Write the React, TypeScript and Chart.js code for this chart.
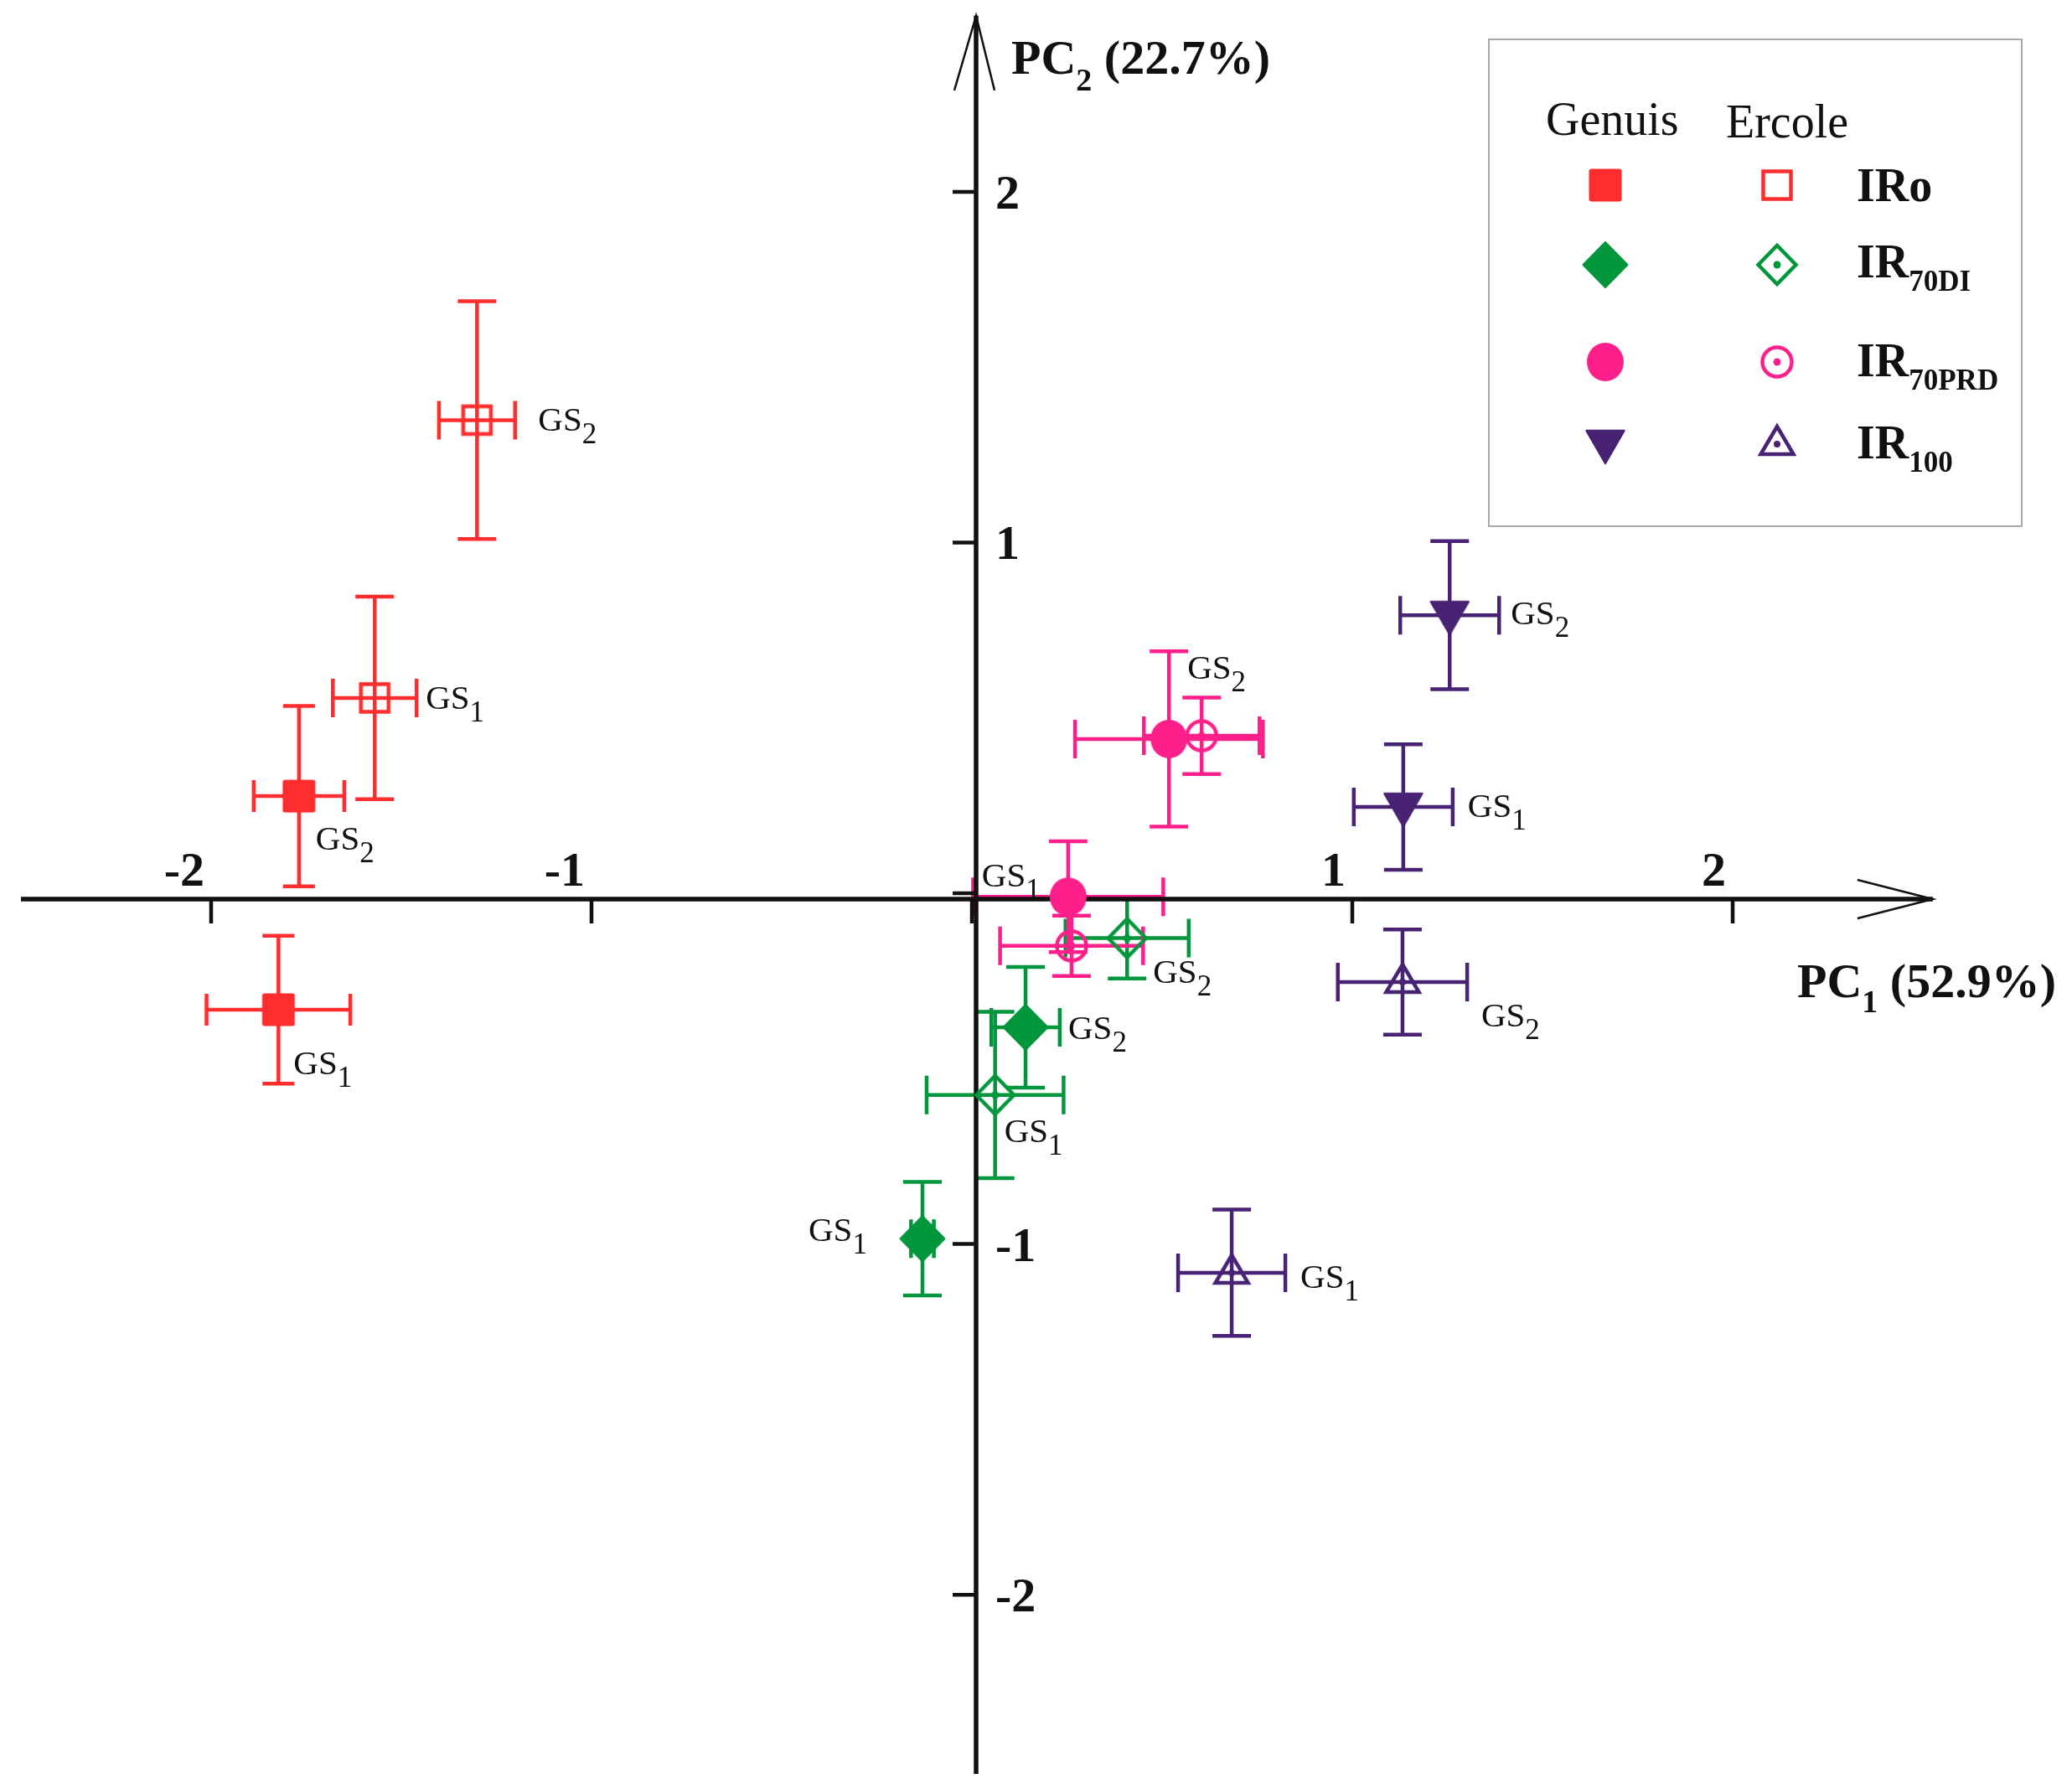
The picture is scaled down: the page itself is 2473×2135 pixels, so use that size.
import React, { useEffect, useRef } from 'react';
import { Chart, registerables } from 'chart.js';

Chart.register(...registerables);

// ---------------- DATA ----------------
// each point: [PC1, PC2, error PC1, error PC2]; first row GS1, second row GS2
const stageNames = ['GS1', 'GS2'];
const genuisIRo = [[-1.823, -0.332, 0.189, 0.211], [-1.769, 0.277, 0.119, 0.257]];
const ercoleIRo = [[-1.570, 0.557, 0.110, 0.289], [-1.301, 1.349, 0.100, 0.339]];
const genuisIR70DI = [[-0.130, -0.985, 0.030, 0.162], [0.141, -0.382, 0.090, 0.172]];
const ercoleIR70DI = [[0.061, -0.575, 0.180, 0.237], [0.408, -0.128, 0.162, 0.115]];
const genuisIR70PRD = [[0.253, -0.010, 0.250, 0.158], [0.518, 0.440, 0.247, 0.250]];
const ercoleIR70PRD = [[0.262, -0.150, 0.188, 0.086], [0.604, 0.449, 0.152, 0.109]];
const genuisIR100 = [[1.134, 0.246, 0.130, 0.179], [1.256, 0.793, 0.130, 0.211]];
const ercoleIR100 = [[0.683, -1.082, 0.141, 0.180], [1.132, -0.253, 0.170, 0.150]];

const cultivars = ['Genuis', 'Ercole'];
const treatmentMain = ['IRo', 'IR', 'IR', 'IR'];
const treatmentSub = ['', '70DI', '70PRD', '100'];
const tickValues = [-2, -1, 0, 1, 2];
const tickLabels = ['-2', '-1', '', '1', '2'];
const xTitleParts = ['PC', '1', ' (52.9%)'];
const yTitleParts = ['PC', '2', ' (22.7%)'];

// ---------------- STYLE ----------------
const RED = '#FF2D2D';
const GREEN = '#00963C';
const PINK = '#FF1F8A';
const PURPLE = '#482374';
const SERIF = '"Liberation Serif", "Times New Roman", serif';

type Kind = 'squareFilled' | 'squareOpen' | 'diamondFilled' | 'diamondOpen' | 'circleFilled' | 'circleOpen' | 'triDown' | 'triUp';

interface SeriesDef {
  name: string;
  points: number[][];
  color: string;
  kind: Kind;
  cap: number;
  labels: (number[] | null)[] | null; // pixel offsets [dx, dyBaseline] per point
}

const seriesDefs: SeriesDef[] = [
  { name: 'Genuis IRo', points: genuisIRo, color: RED, kind: 'squareFilled', cap: 19, labels: [[18, 77], [20, 64]] },
  { name: 'Ercole IRo', points: ercoleIRo, color: RED, kind: 'squareOpen', cap: 23, labels: [[61, 13], [73, 13]] },
  { name: 'Genuis IR70DI', points: genuisIR70DI, color: GREEN, kind: 'diamondFilled', cap: 23, labels: [[-136, 3], [51, 14]] },
  { name: 'Ercole IR70DI', points: ercoleIR70DI, color: GREEN, kind: 'diamondOpen', cap: 23, labels: [[11, 56], [31, 53]] },
  { name: 'Genuis IR70PRD', points: genuisIR70PRD, color: PINK, kind: 'circleFilled', cap: 23, labels: [[-103, -12], [22, -72]] },
  { name: 'Ercole IR70PRD', points: ercoleIR70PRD, color: PINK, kind: 'circleOpen', cap: 23, labels: null },
  { name: 'Genuis IR100', points: genuisIR100, color: PURPLE, kind: 'triDown', cap: 23, labels: [[77, 12], [73, 11]] },
  { name: 'Ercole IR100', points: ercoleIR100, color: PURPLE, kind: 'triUp', cap: 23, labels: [[82, 18], [94, 53]] },
];

function makeMarker(kind: Kind, color: string): HTMLCanvasElement {
  const c = document.createElement('canvas');
  c.width = 72;
  c.height = 72;
  const g = c.getContext('2d') as CanvasRenderingContext2D;
  g.translate(36, 36);
  g.fillStyle = color;
  g.strokeStyle = color;
  g.lineJoin = 'miter';
  const dot = (r: number) => {
    g.beginPath();
    g.arc(0, 0, r, 0, Math.PI * 2);
    g.fill();
  };
  switch (kind) {
    case 'squareFilled':
      g.beginPath();
      g.roundRect(-19.5, -19.5, 39, 39, 3);
      g.fill();
      break;
    case 'squareOpen':
      g.lineWidth = 4.5;
      g.strokeRect(-16.5, -16.5, 33, 33);
      break;
    case 'diamondFilled':
      g.beginPath();
      g.moveTo(-26.5, 0);
      g.lineTo(0, -27);
      g.lineTo(26.5, 0);
      g.lineTo(0, 27);
      g.closePath();
      g.lineJoin = 'round';
      g.lineWidth = 2;
      g.fill();
      g.stroke();
      break;
    case 'diamondOpen':
      g.lineWidth = 4.5;
      g.beginPath();
      g.moveTo(-22.5, 0);
      g.lineTo(0, -23);
      g.lineTo(22.5, 0);
      g.lineTo(0, 23);
      g.closePath();
      g.stroke();
      dot(4.5);
      break;
    case 'circleFilled':
      g.beginPath();
      g.ellipse(0, 0, 22, 23, 0, 0, Math.PI * 2);
      g.fill();
      break;
    case 'circleOpen':
      g.lineWidth = 4.5;
      g.beginPath();
      g.arc(0, 0, 17.5, 0, Math.PI * 2);
      g.stroke();
      dot(4.5);
      break;
    case 'triDown':
      g.beginPath();
      g.moveTo(-22.5, -16);
      g.lineTo(22.5, -16);
      g.lineTo(0, 23);
      g.closePath();
      g.lineJoin = 'round';
      g.lineWidth = 2.5;
      g.fill();
      g.stroke();
      break;
    case 'triUp':
      g.lineWidth = 4.5;
      g.beginPath();
      g.moveTo(0, -21);
      g.lineTo(19.5, 12);
      g.lineTo(-19.5, 12);
      g.closePath();
      g.stroke();
      dot(4);
      break;
  }
  return c;
}

function drawRich(
  ctx: CanvasRenderingContext2D,
  x: number,
  y: number,
  main: string,
  sub: string,
  tail: string,
  mainFont: string,
  subFont: string,
  drop: number
) {
  ctx.textAlign = 'left';
  ctx.textBaseline = 'alphabetic';
  ctx.font = mainFont;
  ctx.fillText(main, x, y);
  let cx = x + ctx.measureText(main).width;
  if (sub) {
    ctx.font = subFont;
    ctx.fillText(sub, cx, y + drop);
    cx += ctx.measureText(sub).width;
  }
  if (tail) {
    ctx.font = mainFont;
    ctx.fillText(tail, cx, y);
  }
}

const AXIS_SHIFT_X = 5; // vertical axis line drawn slightly right of PC1 = 0
const AXIS_SHIFT_Y = 7; // horizontal axis line drawn slightly below PC2 = 0
const X_AXIS_FROM = -2.5;
const X_AXIS_TO = 2.526;
const Y_AXIS_FROM = -2.511;
const Y_AXIS_TO = 2.502;

export default function App() {
  const canvasRef = useRef<HTMLCanvasElement | null>(null);

  useEffect(() => {
    document.body.style.margin = '0';
    document.body.style.overflow = 'hidden';
    const canvas = canvasRef.current;
    if (!canvas) return;

    const markers = seriesDefs.map((s) => makeMarker(s.kind, s.color));

    const decor = {
      id: 'pcaDecor',
      beforeDatasetsDraw(chart: any) {
        const ctx: CanvasRenderingContext2D = chart.ctx;
        const xs = chart.scales.x;
        const ys = chart.scales.y;
        // error bars
        seriesDefs.forEach((s) => {
          ctx.save();
          ctx.strokeStyle = s.color;
          ctx.lineWidth = 4.5;
          ctx.lineCap = 'butt';
          s.points.forEach((p) => {
            const cx = xs.getPixelForValue(p[0]);
            const cy = ys.getPixelForValue(p[1]);
            const x1 = xs.getPixelForValue(p[0] - p[2]);
            const x2 = xs.getPixelForValue(p[0] + p[2]);
            const y1 = ys.getPixelForValue(p[1] + p[3]);
            const y2 = ys.getPixelForValue(p[1] - p[3]);
            const h = s.cap;
            ctx.beginPath();
            ctx.moveTo(x1, cy);
            ctx.lineTo(x2, cy);
            ctx.moveTo(x1, cy - h);
            ctx.lineTo(x1, cy + h);
            ctx.moveTo(x2, cy - h);
            ctx.lineTo(x2, cy + h);
            ctx.moveTo(cx, y1);
            ctx.lineTo(cx, y2);
            ctx.moveTo(cx - h, y1);
            ctx.lineTo(cx + h, y1);
            ctx.moveTo(cx - h, y2);
            ctx.lineTo(cx + h, y2);
            ctx.stroke();
          });
          ctx.restore();
        });

        // axes
        const ax = xs.getPixelForValue(0) + AXIS_SHIFT_X;
        const ay = ys.getPixelForValue(0) + AXIS_SHIFT_Y;
        const xl = xs.getPixelForValue(X_AXIS_FROM);
        const xr = xs.getPixelForValue(X_AXIS_TO);
        const yt = ys.getPixelForValue(Y_AXIS_TO);
        const yb = ys.getPixelForValue(Y_AXIS_FROM);
        ctx.save();
        ctx.strokeStyle = '#111';
        ctx.lineWidth = 5.5;
        ctx.beginPath();
        ctx.moveTo(xl, ay);
        ctx.lineTo(xr, ay);
        ctx.moveTo(ax, yb);
        ctx.lineTo(ax, yt);
        ctx.stroke();
        // arrow heads
        ctx.lineWidth = 2.5;
        ctx.beginPath();
        ctx.moveTo(xr - 90, ay - 23);
        ctx.lineTo(xr, ay);
        ctx.lineTo(xr - 90, ay + 23);
        ctx.moveTo(ax - 26, yt + 89);
        ctx.lineTo(ax, yt);
        ctx.lineTo(ax + 22, yt + 89);
        ctx.stroke();
        // tick marks
        ctx.lineWidth = 4.5;
        ctx.beginPath();
        tickValues.forEach((v) => {
          const px = xs.getPixelForValue(v);
          ctx.moveTo(px, ay);
          ctx.lineTo(px, ay + 29);
          const py = ys.getPixelForValue(v);
          ctx.moveTo(ax - 28, py);
          ctx.lineTo(ax, py);
        });
        ctx.stroke();
        ctx.restore();
      },
      afterDatasetsDraw(chart: any) {
        const ctx: CanvasRenderingContext2D = chart.ctx;
        const xs = chart.scales.x;
        const ys = chart.scales.y;
        const ax = xs.getPixelForValue(0) + AXIS_SHIFT_X;
        const ay = ys.getPixelForValue(0) + AXIS_SHIFT_Y;
        ctx.save();
        ctx.fillStyle = '#111';

        // tick labels
        ctx.font = `bold 58px ${SERIF}`;
        tickValues.forEach((v, i) => {
          const t = tickLabels[i];
          if (!t) return;
          ctx.textAlign = 'right';
          ctx.textBaseline = 'alphabetic';
          ctx.fillText(t, xs.getPixelForValue(v) - 8, ay - 16);
          ctx.textAlign = 'left';
          ctx.fillText(t, ax + 23, ys.getPixelForValue(v) + 20);
        });

        // axis titles
        drawRich(ctx, 2145, ay + 117, xTitleParts[0], xTitleParts[1], xTitleParts[2], `bold 58px ${SERIF}`, `bold 38px ${SERIF}`, 18);
        drawRich(ctx, ax + 42, 88, yTitleParts[0], yTitleParts[1], yTitleParts[2], `bold 58px ${SERIF}`, `bold 38px ${SERIF}`, 20);

        // point labels
        seriesDefs.forEach((s) => {
          if (!s.labels) return;
          s.points.forEach((p, j) => {
            const off = s.labels ? s.labels[j] : null;
            if (!off) return;
            const px = xs.getPixelForValue(p[0]);
            const py = ys.getPixelForValue(p[1]);
            const name = stageNames[j];
            drawRich(ctx, px + off[0], py + off[1], name.slice(0, 2), name.slice(2), '', `41px ${SERIF}`, `35px ${SERIF}`, 15);
          });
        });

        // legend
        ctx.strokeStyle = '#a8a8a8';
        ctx.lineWidth = 2;
        ctx.strokeRect(1777, 47, 636, 581);
        ctx.font = `56px ${SERIF}`;
        ctx.textAlign = 'left';
        ctx.textBaseline = 'alphabetic';
        ctx.fillText(cultivars[0], 1845, 161);
        ctx.fillText(cultivars[1], 2060, 164);
        const rowY = [221, 316, 432, 530];
        const textY = [240, 331, 449, 547];
        for (let r = 0; r < 4; r++) {
          const mg = markers[r * 2];
          const me = markers[r * 2 + 1];
          ctx.drawImage(mg, 1916 - mg.width / 2, rowY[r] - mg.height / 2);
          ctx.drawImage(me, 2121 - me.width / 2, rowY[r] - me.height / 2);
          drawRich(ctx, 2216, textY[r], treatmentMain[r], treatmentSub[r], '', `bold 56px ${SERIF}`, `bold 35px ${SERIF}`, 16);
        }
        ctx.restore();
      },
    };

    const chart = new Chart(canvas, {
      type: 'scatter',
      data: {
        datasets: seriesDefs.map((s, i) => ({
          label: s.name,
          data: s.points.map((p) => ({ x: p[0], y: p[1] })),
          pointStyle: markers[i] as any,
          pointRadius: 20,
          pointHoverRadius: 20,
          backgroundColor: s.color,
          borderColor: s.color,
          clip: false as any,
        })),
      },
      options: {
        animation: false,
        responsive: false,
        devicePixelRatio: 1,
        events: [],
        layout: { padding: 0, autoPadding: false },
        plugins: {
          legend: { display: false },
          tooltip: { enabled: false },
        },
        scales: {
          x: { type: 'linear', min: -2.555, max: 2.892, bounds: 'data', display: false },
          y: { type: 'linear', min: -2.554, max: 2.547, bounds: 'data', display: false },
        },
      },
      plugins: [decor],
    });

    return () => {
      chart.destroy();
    };
  }, []);

  return (
    <div style={{ width: 2473, height: 2135, background: '#fff' }}>
      <canvas ref={canvasRef} width={2473} height={2135} style={{ display: 'block', width: 2473, height: 2135 }} />
    </div>
  );
}
